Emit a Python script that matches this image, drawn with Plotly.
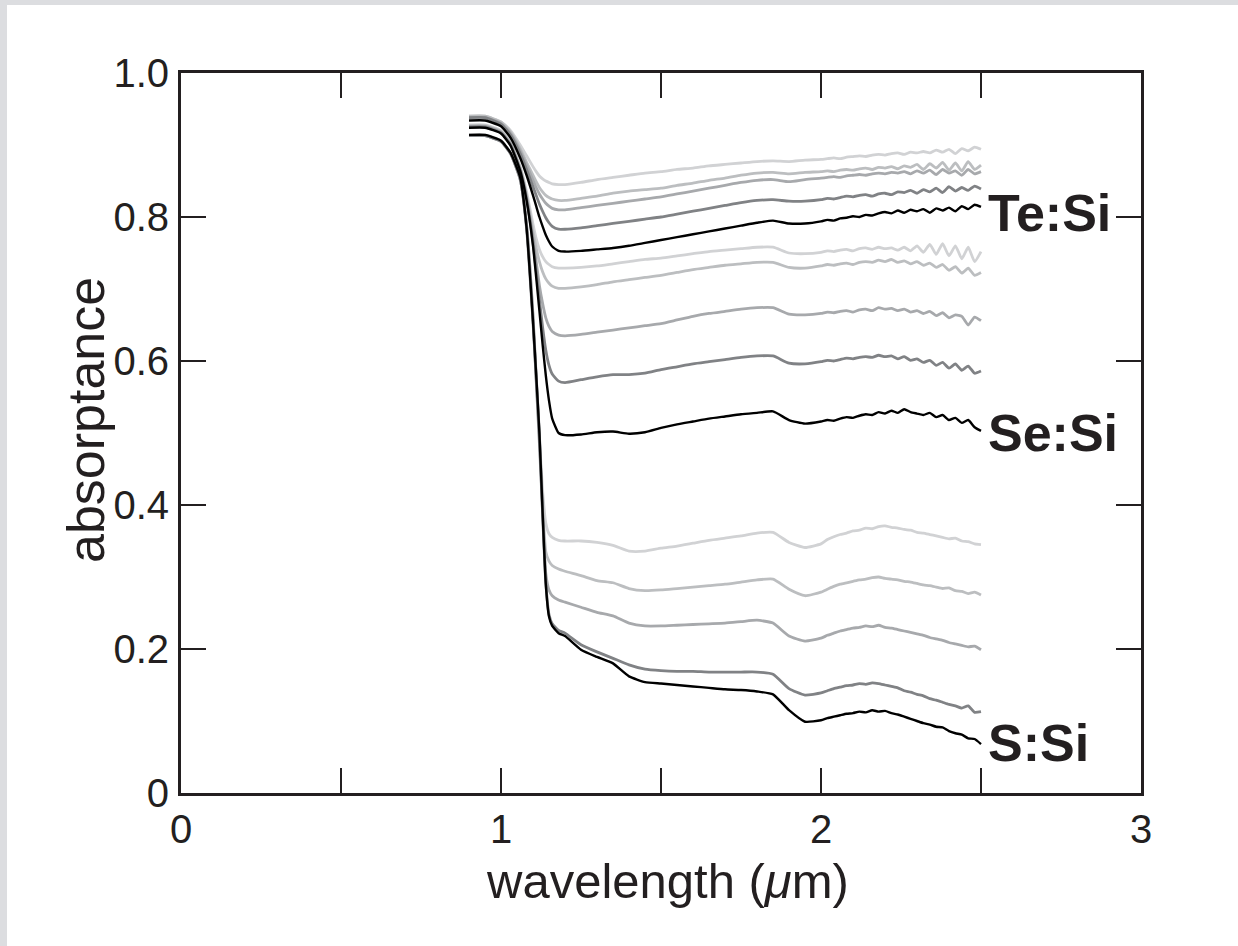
import plotly.graph_objects as go

# ---------------- data ----------------
wavelength = [0.90, 0.95, 1.00, 1.03, 1.06, 1.08, 1.10, 1.11, 1.12, 1.13, 1.14, 1.15, 1.16, 1.18, 1.20,
              1.25, 1.30, 1.35, 1.40, 1.45, 1.50, 1.55, 1.60, 1.65, 1.70, 1.75, 1.80, 1.85, 1.90, 1.95,
              2.00, 2.02, 2.04, 2.06, 2.08, 2.10, 2.12, 2.14, 2.16, 2.18, 2.20, 2.22, 2.24,
              2.26, 2.28, 2.30, 2.32, 2.34, 2.36, 2.38, 2.40, 2.42, 2.44, 2.46, 2.48, 2.50]

te_1 = [0.940, 0.940, 0.932, 0.920, 0.900, 0.885, 0.870, 0.863, 0.857, 0.853, 0.850, 0.848, 0.846, 0.845, 0.845,
        0.848, 0.852, 0.855, 0.858, 0.861, 0.863, 0.866, 0.868, 0.871, 0.873, 0.875, 0.877, 0.878, 0.877, 0.879,
        0.880, 0.881, 0.882, 0.881, 0.883, 0.884, 0.885, 0.884, 0.886, 0.887, 0.886, 0.888, 0.889,
        0.887, 0.890, 0.889, 0.891, 0.889, 0.893, 0.890, 0.894, 0.888, 0.895, 0.892, 0.897, 0.894]
te_2 = [0.940, 0.940, 0.932, 0.918, 0.895, 0.876, 0.858, 0.849, 0.841, 0.835, 0.830, 0.827, 0.825, 0.823, 0.823,
        0.826, 0.829, 0.833, 0.836, 0.838, 0.840, 0.844, 0.847, 0.851, 0.854, 0.858, 0.861, 0.862, 0.860, 0.862,
        0.863, 0.864, 0.863, 0.865, 0.866, 0.865, 0.867, 0.868, 0.866, 0.869, 0.868, 0.870, 0.867,
        0.871, 0.869, 0.873, 0.866, 0.874, 0.868, 0.876, 0.865, 0.875, 0.864, 0.877, 0.866, 0.872]
te_3 = [0.938, 0.938, 0.930, 0.916, 0.892, 0.872, 0.851, 0.841, 0.832, 0.825, 0.819, 0.815, 0.812, 0.810, 0.810,
        0.813, 0.816, 0.819, 0.822, 0.825, 0.828, 0.832, 0.836, 0.840, 0.844, 0.848, 0.851, 0.852, 0.849, 0.852,
        0.854, 0.855, 0.856, 0.855, 0.857, 0.858, 0.859, 0.858, 0.860, 0.861, 0.860, 0.862, 0.861,
        0.863, 0.860, 0.864, 0.861, 0.865, 0.859, 0.866, 0.861, 0.864, 0.858, 0.866, 0.860, 0.863]
te_4 = [0.938, 0.938, 0.929, 0.914, 0.888, 0.866, 0.842, 0.830, 0.818, 0.808, 0.799, 0.792, 0.787, 0.783, 0.783,
        0.785, 0.788, 0.791, 0.794, 0.797, 0.800, 0.804, 0.808, 0.812, 0.816, 0.820, 0.823, 0.824, 0.822, 0.822,
        0.824, 0.826, 0.825, 0.827, 0.829, 0.828, 0.830, 0.831, 0.829, 0.832, 0.833, 0.831, 0.835,
        0.834, 0.837, 0.833, 0.838, 0.835, 0.840, 0.834, 0.842, 0.836, 0.841, 0.837, 0.843, 0.839]
te_5 = [0.934, 0.934, 0.926, 0.910, 0.882, 0.858, 0.830, 0.815, 0.800, 0.787, 0.775, 0.766, 0.759, 0.753, 0.752,
        0.753, 0.755, 0.757, 0.760, 0.764, 0.768, 0.772, 0.776, 0.780, 0.784, 0.788, 0.792, 0.795, 0.791, 0.791,
        0.794, 0.796, 0.795, 0.798, 0.799, 0.801, 0.800, 0.803, 0.802, 0.805, 0.807, 0.805, 0.809,
        0.806, 0.810, 0.808, 0.811, 0.806, 0.812, 0.809, 0.813, 0.808, 0.815, 0.811, 0.817, 0.814]

se_1 = [0.928, 0.928, 0.920, 0.903, 0.870, 0.835, 0.790, 0.770, 0.755, 0.745, 0.738, 0.734, 0.731, 0.729, 0.729,
        0.730, 0.732, 0.735, 0.738, 0.741, 0.743, 0.746, 0.749, 0.752, 0.754, 0.756, 0.758, 0.758, 0.750, 0.749,
        0.751, 0.753, 0.752, 0.754, 0.755, 0.753, 0.756, 0.757, 0.755, 0.758, 0.756, 0.757, 0.754,
        0.758, 0.753, 0.760, 0.751, 0.762, 0.748, 0.763, 0.746, 0.760, 0.742, 0.758, 0.738, 0.752]
se_2 = [0.927, 0.927, 0.919, 0.902, 0.868, 0.830, 0.780, 0.757, 0.738, 0.724, 0.714, 0.708, 0.704, 0.701, 0.701,
        0.703, 0.706, 0.710, 0.713, 0.716, 0.719, 0.723, 0.727, 0.730, 0.733, 0.735, 0.737, 0.737, 0.730, 0.729,
        0.732, 0.734, 0.733, 0.735, 0.736, 0.734, 0.737, 0.738, 0.737, 0.740, 0.738, 0.741, 0.737,
        0.739, 0.735, 0.738, 0.733, 0.736, 0.730, 0.734, 0.726, 0.731, 0.722, 0.729, 0.719, 0.723]
se_3 = [0.926, 0.926, 0.918, 0.901, 0.866, 0.827, 0.770, 0.738, 0.705, 0.680, 0.660, 0.648, 0.641, 0.636, 0.635,
        0.637, 0.640, 0.643, 0.646, 0.649, 0.652, 0.657, 0.662, 0.666, 0.669, 0.672, 0.674, 0.674, 0.665, 0.664,
        0.666, 0.668, 0.667, 0.669, 0.670, 0.668, 0.671, 0.672, 0.670, 0.674, 0.672, 0.673, 0.670,
        0.672, 0.668, 0.670, 0.666, 0.669, 0.663, 0.667, 0.660, 0.664, 0.662, 0.650, 0.661, 0.656]
se_4 = [0.925, 0.925, 0.917, 0.900, 0.865, 0.825, 0.765, 0.725, 0.685, 0.647, 0.615, 0.594, 0.582, 0.572, 0.570,
        0.574, 0.578, 0.581, 0.581, 0.583, 0.588, 0.592, 0.596, 0.599, 0.602, 0.605, 0.607, 0.607, 0.597, 0.596,
        0.599, 0.601, 0.600, 0.602, 0.604, 0.603, 0.605, 0.606, 0.605, 0.608, 0.606, 0.607, 0.603,
        0.606, 0.601, 0.603, 0.598, 0.601, 0.594, 0.598, 0.590, 0.596, 0.587, 0.593, 0.583, 0.586]
se_5 = [0.924, 0.924, 0.916, 0.899, 0.864, 0.823, 0.760, 0.716, 0.670, 0.623, 0.580, 0.545, 0.520, 0.500, 0.497,
        0.498, 0.501, 0.502, 0.499, 0.501, 0.507, 0.512, 0.516, 0.520, 0.523, 0.526, 0.528, 0.530, 0.518, 0.513,
        0.516, 0.518, 0.517, 0.520, 0.522, 0.521, 0.524, 0.526, 0.525, 0.529, 0.527, 0.531, 0.528,
        0.533, 0.529, 0.527, 0.525, 0.528, 0.522, 0.525, 0.518, 0.521, 0.514, 0.518, 0.508, 0.503]

s_1 = [0.914, 0.914, 0.906, 0.889, 0.853, 0.790, 0.665, 0.580, 0.495, 0.420, 0.375, 0.360, 0.355, 0.351, 0.350,
       0.350, 0.348, 0.344, 0.336, 0.336, 0.340, 0.343, 0.347, 0.351, 0.354, 0.357, 0.361, 0.362, 0.348, 0.341,
       0.346, 0.352, 0.356, 0.359, 0.361, 0.364, 0.365, 0.368, 0.367, 0.370, 0.371, 0.369, 0.368,
       0.366, 0.365, 0.362, 0.361, 0.359, 0.357, 0.355, 0.353, 0.354, 0.350, 0.349, 0.346, 0.345]
s_2 = [0.913, 0.913, 0.905, 0.888, 0.852, 0.788, 0.662, 0.575, 0.490, 0.400, 0.335, 0.322, 0.316, 0.311, 0.308,
       0.302, 0.295, 0.292, 0.284, 0.281, 0.282, 0.284, 0.286, 0.288, 0.290, 0.293, 0.296, 0.297, 0.283, 0.274,
       0.279, 0.283, 0.287, 0.290, 0.292, 0.294, 0.296, 0.297, 0.299, 0.300, 0.298, 0.297, 0.296,
       0.294, 0.293, 0.291, 0.289, 0.288, 0.286, 0.284, 0.285, 0.281, 0.280, 0.277, 0.279, 0.275]
s_3 = [0.913, 0.913, 0.905, 0.888, 0.852, 0.787, 0.660, 0.572, 0.485, 0.390, 0.305, 0.282, 0.274, 0.268, 0.265,
       0.258, 0.251, 0.246, 0.236, 0.232, 0.232, 0.233, 0.234, 0.235, 0.236, 0.238, 0.240, 0.236, 0.218, 0.211,
       0.215, 0.219, 0.222, 0.225, 0.227, 0.229, 0.230, 0.232, 0.231, 0.233, 0.230, 0.229, 0.227,
       0.225, 0.223, 0.221, 0.219, 0.216, 0.214, 0.212, 0.209, 0.207, 0.205, 0.203, 0.204, 0.199]
s_4 = [0.913, 0.913, 0.905, 0.888, 0.853, 0.784, 0.654, 0.578, 0.498, 0.388, 0.292, 0.248, 0.235, 0.226, 0.222,
       0.206, 0.196, 0.187, 0.178, 0.172, 0.170, 0.169, 0.169, 0.168, 0.168, 0.168, 0.168, 0.165, 0.145, 0.136,
       0.139, 0.142, 0.145, 0.147, 0.149, 0.150, 0.152, 0.151, 0.153, 0.152, 0.150, 0.148, 0.146,
       0.142, 0.140, 0.137, 0.135, 0.131, 0.129, 0.126, 0.123, 0.121, 0.118, 0.121, 0.112, 0.113]
s_5 = [0.914, 0.914, 0.906, 0.889, 0.855, 0.785, 0.655, 0.580, 0.500, 0.390, 0.290, 0.245, 0.232, 0.222, 0.218,
       0.199, 0.189, 0.180, 0.162, 0.154, 0.152, 0.150, 0.148, 0.146, 0.144, 0.143, 0.141, 0.137, 0.115, 0.099,
       0.101, 0.104, 0.106, 0.108, 0.110, 0.111, 0.113, 0.112, 0.115, 0.113, 0.114, 0.111, 0.109,
       0.106, 0.103, 0.100, 0.097, 0.095, 0.092, 0.091, 0.086, 0.083, 0.081, 0.076, 0.075, 0.068]

series_names = ["Te:Si 1", "Te:Si 2", "Te:Si 3", "Te:Si 4", "Te:Si 5",
                "Se:Si 1", "Se:Si 2", "Se:Si 3", "Se:Si 4", "Se:Si 5",
                "S:Si 1", "S:Si 2", "S:Si 3", "S:Si 4", "S:Si 5"]
series_values = [te_1, te_2, te_3, te_4, te_5,
                 se_1, se_2, se_3, se_4, se_5,
                 s_1, s_2, s_3, s_4, s_5]

x_tick_vals = [0, 0.5, 1, 1.5, 2, 2.5, 3]
x_tick_text = ["0", "", "1", "", "2", "", "3"]
y_tick_vals = [0, 0.2, 0.4, 0.6, 0.8, 1.0]
y_tick_text = ["0", "0.2", "0.4", "0.6", "0.8", "1.0"]

group_labels = ["Te:Si", "Se:Si", "S:Si"]

# ---------------- style ----------------
shade_colors = ["#d1d2d4", "#bcbec0", "#a7a9ac", "#808285", "#000000"]
ink = "#231f20"
font_family = "Liberation Sans, Arial, Helvetica, sans-serif"

for v in series_values:
    assert len(v) == len(wavelength)

fig = go.Figure()
# draw light shades first, darkest (black) last
for shade in range(5):
    for g in range(3):
        idx = g * 5 + shade
        fig.add_trace(go.Scatter(
            x=wavelength, y=series_values[idx], mode="lines",
            name=series_names[idx],
            line=dict(color=shade_colors[shade], width=2.8 if shade < 4 else 2.4,
                      shape="spline", smoothing=0.5),
            showlegend=False, hoverinfo="skip"))

axis_common = dict(
    showline=True, linecolor=ink, linewidth=3, mirror="allticks",
    ticks="inside", ticklen=25, tickwidth=2, tickcolor=ink,
    showgrid=False, zeroline=False,
    tickfont=dict(family=font_family, size=40, color=ink),
)
fig.update_xaxes(range=[0, 3], tickmode="array", tickvals=x_tick_vals,
                 ticktext=x_tick_text, ticklabelstandoff=-1, **axis_common)
fig.update_yaxes(range=[0, 1], tickmode="array", tickvals=y_tick_vals,
                 ticktext=y_tick_text, ticklabelstandoff=1, **axis_common)

annotations = [
    dict(text="wavelength (<i>μ</i>m)", xref="paper", yref="paper", x=0.507, y=-0.122,
         xanchor="center", yanchor="middle", showarrow=False,
         font=dict(family=font_family, size=49, color=ink)),
    dict(text="absorptance", xref="paper", yref="paper", x=-0.099, y=0.518,
         xanchor="center", yanchor="middle", textangle=-90, showarrow=False,
         font=dict(family=font_family, size=52, color=ink)),
]
label_pos = [(2.515, 0.806), (2.515, 0.50), (2.515, 0.069)]
for lab, (lx, ly) in zip(group_labels, label_pos):
    annotations.append(dict(text="<b>" + lab + "</b>", x=lx, y=ly, xref="x", yref="y",
                            xanchor="left", yanchor="middle", showarrow=False,
                            font=dict(family=font_family, size=52, color=ink)))

fig.update_layout(
    width=1238, height=946,
    margin=dict(l=173, r=105, t=65, b=161, autoexpand=False),
    paper_bgcolor="white", plot_bgcolor="white",
    font=dict(family=font_family, color=ink),
    annotations=annotations,
)

# thin grey page border strips seen at the top and left edge of the reference
border_js = (
    "var a=document.createElement('div');"
    "a.style.cssText='position:fixed;left:0;top:0;width:100%;height:5px;background:#dcdde0;z-index:10;pointer-events:none';"
    "document.body.appendChild(a);"
    "var b=document.createElement('div');"
    "b.style.cssText='position:fixed;left:0;top:0;width:7px;height:100%;background:#dcdde0;z-index:10;pointer-events:none';"
    "document.body.appendChild(b);"
)

fig.write_html("out.html", post_script=border_js)
